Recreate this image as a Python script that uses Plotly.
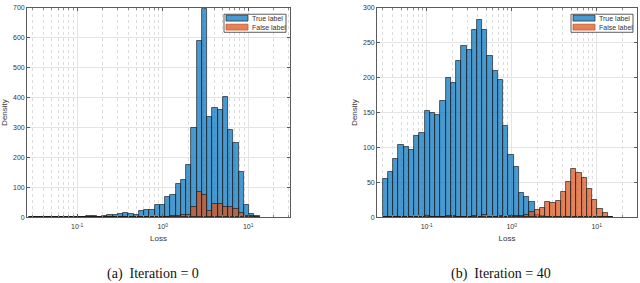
import numpy as np
import plotly.graph_objects as go

# ---- data (histogram counts over log10(loss) bins) ----
bin_start_a = -1.569   # log10 of first bin edge, panel (a)
bin_width_a = 0.0614   # bin width in decades, panel (a)
bin_start_b = -1.5176  # panel (b)
bin_width_b = 0.0616

true_a = [1, 0, 1, 1, 0, 1, 1, 0, 1, 2, 2, 3, 4, 2, 4, 7, 9, 10, 13, 12, 8, 20,
          24, 26, 40, 40, 68, 73, 113, 124, 175, 300, 590, 697, 335, 364, 358,
          401, 293, 248, 150, 41, 10, 1]
false_a = [0, 1, 0, 1, 1, 0, 1, 0, 1, 0, 1, 0, 1, 1, 0, 1, 1, 0, 1, 1, 1, 1,
           1, 2, 2, 2, 2, 3, 4, 9, 9, 33, 84, 75, 21, 46, 43, 36, 36, 29, 13, 4,
           5, 3]
true_b = [55, 65, 84, 103, 101, 97, 117, 121, 152, 150, 147, 167, 200, 193, 224,
          246, 240, 268, 283, 268, 231, 210, 197, 131, 89, 72, 35, 29, 22, 4, 2,
          1, 0, 0, 0, 0, 0, 0, 0, 0, 0, 0, 0, 0]
false_b = [0, 0, 0, 0, 0, 1, 0, 0, 2, 0, 0, 1, 2, 2, 1, 0, 1, 2, 0, 3, 1, 1, 2,
           1, 2, 2, 2, 3, 8, 11, 13, 22, 21, 24, 36, 50, 69, 63, 57, 40, 25, 12,
           6, 0]

series_names = ["True label", "False label"]
captions = ["(a)  Iteration = 0", "(b)  Iteration = 40"]
x_tick_vals = [-1, 0, 1]
x_tick_text = ["10<sup>-1</sup>", "10<sup>0</sup>", "10<sup>1</sup>"]
y_ticks_a = [0, 100, 200, 300, 400, 500, 600, 700]
y_ticks_b = [0, 50, 100, 150, 200, 250, 300]

# ---- styling ----
BLUE = "rgba(0,114,189,0.72)"
ORANGE = "rgba(217,83,25,0.72)"
EDGE = "rgba(20,20,20,0.8)"
GRID = "#e4e4e4"
MINOR = "#dcdcdc"
AXC = "#5a5a5a"
TXT = "#333333"
SANS = "Liberation Sans, Arial, sans-serif"
SERIF = "Liberation Serif, Times New Roman, serif"
W, H = 640, 283


def centers(start, width, n):
    edges = start + width * np.arange(n + 1)
    return (edges[:-1] + edges[1:]) / 2


minor_vals = [float(np.log10(k * 10.0 ** d)) for d in range(-2, 2) for k in range(2, 10)]

fig = go.Figure()
panels = [
    (true_a, false_a, bin_start_a, bin_width_a, "x", "y"),
    (true_b, false_b, bin_start_b, bin_width_b, "x2", "y2"),
]
for t, f, s, w, xa, ya in panels:
    c = centers(s, w, len(t))
    fig.add_trace(go.Bar(x=c, y=t, width=w, name=series_names[0], xaxis=xa, yaxis=ya,
                         marker=dict(color=BLUE, line=dict(color=EDGE, width=0.8)),
                         showlegend=False))
    fig.add_trace(go.Bar(x=c, y=f, width=w, name=series_names[1], xaxis=xa, yaxis=ya,
                         marker=dict(color=ORANGE, line=dict(color=EDGE, width=0.8)),
                         showlegend=False))

# plot-area pixel geometry
ax_px = [(27, 290, -1.587, 1.489), (377, 637, -1.585, 1.474)]
y_top, y_bot = 4, 218.6

def xaxis_cfg(px):
    x0, x1, r0, r1 = px
    return dict(domain=[x0 / W, x1 / W], range=[r0, r1], tickvals=x_tick_vals,
                ticktext=x_tick_text, ticks="inside", ticklen=3, tickcolor=AXC,
                ticklabelstandoff=3,
                showline=True, linecolor=AXC, linewidth=0.8, mirror="allticks",
                showgrid=True, gridcolor=GRID, gridwidth=1, zeroline=False,
                tickfont=dict(family=SANS, size=7, color=TXT),
                title=dict(text="Loss", font=dict(family=SANS, size=8, color=TXT), standoff=5),
                minor=dict(tickvals=minor_vals, showgrid=True, gridcolor=MINOR,
                           griddash="dot", gridwidth=0.7, ticks="inside", ticklen=2,
                           tickcolor="#888"))

def yaxis_cfg(ticks, xanchor):
    return dict(domain=[1 - y_bot / H, 1 - y_top / H], range=[0, ticks[-1]],
                tickvals=ticks, ticks="inside", ticklen=3, tickcolor=AXC,
                showline=True, linecolor=AXC, linewidth=0.8, mirror="allticks",
                showgrid=True, gridcolor=GRID, gridwidth=1, zeroline=False,
                tickfont=dict(family=SANS, size=7, color=TXT), anchor=xanchor,
                title=dict(text="Density", font=dict(family=SANS, size=8, color=TXT), standoff=4))

fig.update_layout(
    width=W, height=H, margin=dict(l=0, r=0, t=0, b=0),
    paper_bgcolor="white", plot_bgcolor="white", barmode="overlay", bargap=0,
    xaxis=dict(xaxis_cfg(ax_px[0]), anchor="y"),
    yaxis=yaxis_cfg(y_ticks_a, "x"),
    xaxis2=dict(xaxis_cfg(ax_px[1]), anchor="y2"),
    yaxis2=yaxis_cfg(y_ticks_b, "x2"),
)

# manual legends (wide patches like the original)
shapes, annots = [], []
for (x0, x1, _, _) in ax_px:
    lx0, lx1 = x1 - 66, x1 - 4
    shapes.append(dict(type="rect", xref="paper", yref="paper",
                       x0=lx0 / W, x1=lx1 / W, y0=1 - 29 / H, y1=1 - 10.5 / H,
                       line=dict(color="#333", width=0.8), fillcolor="white"))
    for i, (col, nm) in enumerate(zip([BLUE, ORANGE], series_names)):
        yc = 14.5 + 9.2 * i
        shapes.append(dict(type="rect", xref="paper", yref="paper",
                           x0=(lx0 + 2) / W, x1=(lx0 + 24) / W,
                           y0=1 - (yc + 3) / H, y1=1 - (yc - 3) / H,
                           line=dict(color=EDGE if i == 0 else "rgba(200,80,30,0.9)", width=0.8),
                           fillcolor=col))
        annots.append(dict(text=nm, xref="paper", yref="paper", x=(lx0 + 25.5) / W,
                           y=1 - yc / H, xanchor="left", yanchor="middle", showarrow=False,
                           font=dict(family=SANS, size=7, color=TXT)))

for cap, cx in zip(captions, [153, 501]):
    annots.append(dict(text=cap, xref="paper", yref="paper",
                       x=cx / W, y=1 - 277 / H,
                       xanchor="center", yanchor="middle", showarrow=False,
                       font=dict(family=SERIF, size=14, color="#111")))

fig.update_layout(shapes=shapes, annotations=annots)
fig.write_html("out.html", config={"displayModeBar": False},
               post_script="document.body.style.margin='0px';")
